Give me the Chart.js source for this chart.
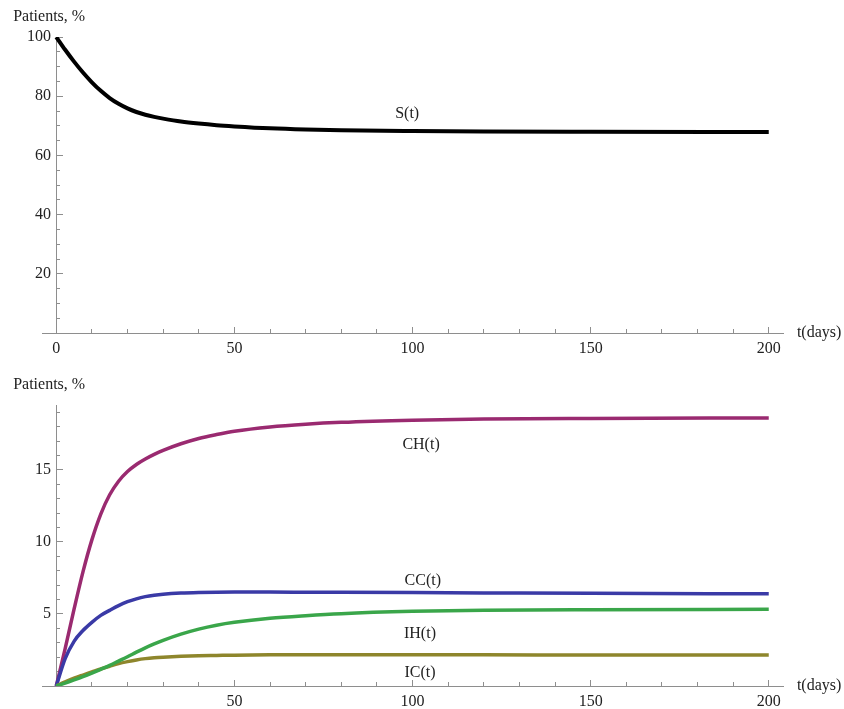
<!DOCTYPE html>
<html>
<head>
<meta charset="utf-8">
<script src="https://cdn.jsdelivr.net/npm/chart.js@4.4.1/dist/chart.umd.min.js"></script>
<style>
html,body{margin:0;padding:0;background:#fff;}
#wrap{position:relative;width:844px;height:709px;overflow:hidden;}
.box{position:absolute;left:0;width:844px;}
</style>
</head>
<body>
<div id="wrap">
  <div class="box" style="top:0;height:360px"><canvas id="c1"></canvas></div>
  <div class="box" style="top:360px;height:349px"><canvas id="c2"></canvas></div>
</div>
<script>
// ---------- data ----------
const days = [0, 2.5, 5, 7.5, 10, 12.5, 15, 17.5, 20, 22.5, 25, 27.5, 30, 35, 40, 45, 50, 60, 70, 80, 100, 120, 150, 200];
const S  = [100, 95.68, 91.68, 88.0, 84.7, 81.8, 79.38, 77.43, 75.88, 74.66, 73.73, 73.0, 72.43, 71.45, 70.75, 70.2, 69.8, 69.15, 68.75, 68.5, 68.25, 68.1, 68.0, 67.9];
const CH = [0, 2.59, 5.33, 7.92, 10.14, 11.93, 13.27, 14.21, 14.88, 15.37, 15.75, 16.07, 16.35, 16.81, 17.18, 17.45, 17.68, 17.98, 18.17, 18.3, 18.45, 18.53, 18.57, 18.6];
const CC = [0, 1.9, 3.1, 3.85, 4.42, 4.9, 5.25, 5.58, 5.85, 6.05, 6.2, 6.3, 6.37, 6.45, 6.49, 6.51, 6.52, 6.52, 6.51, 6.5, 6.48, 6.46, 6.43, 6.4];
const IH = [0, 0.2, 0.42, 0.65, 0.9, 1.16, 1.43, 1.73, 2.03, 2.35, 2.65, 2.92, 3.17, 3.6, 3.95, 4.22, 4.42, 4.7, 4.88, 5.02, 5.18, 5.26, 5.3, 5.32];
const IC = [0, 0.28, 0.54, 0.76, 0.97, 1.18, 1.37, 1.55, 1.69, 1.81, 1.9, 1.96, 2.0, 2.06, 2.1, 2.12, 2.14, 2.16, 2.16, 2.16, 2.16, 2.16, 2.15, 2.15];

const seriesNames = ['S(t)', 'CH(t)', 'CC(t)', 'IH(t)', 'IC(t)'];
const yTitle = 'Patients, %';
const xTitle = 't(days)';

// tick values
const xMajorTop = [0, 50, 100, 150, 200];
const xMajorBottom = [50, 100, 150, 200];
const xMinor = [0, 10, 20, 30, 40, 50, 60, 70, 80, 90, 100, 110, 120, 130, 140, 150, 160, 170, 180, 190, 200];
const yMajorTop = [20, 40, 60, 80, 100];
const yMinorTop = [5, 10, 15, 20, 25, 30, 35, 40, 45, 50, 55, 60, 65, 70, 75, 80, 85, 90, 95, 100];
const yMajorBottom = [5, 10, 15];
const yMinorBottom = [1, 2, 3, 4, 5, 6, 7, 8, 9, 10, 11, 12, 13, 14, 15, 16, 17, 18, 19];

// ---------- styling ----------
const AXIS = '#8e8e8e';
const TXT = '#222222';
const FONT = 'Liberation Serif';

const pts = (arr) => days.map((d, i) => ({x: d, y: arr[i]}));

function tickAxis(axis, pos, values, len, labels, min, max, suffix) {
  return {
    type: 'linear', axis: axis, min: min, max: max, position: pos,
    afterBuildTicks: (s) => { s.ticks = values.map(v => ({value: v})); },
    grid: {drawOnChartArea: false, drawTicks: true, tickLength: -len, tickColor: AXIS, tickWidth: 1},
    border: {display: labels, color: AXIS, width: 1},
    ticks: {
      autoSkip: false, maxRotation: 0, padding: 13, color: TXT,
      font: {family: FONT, size: 16},
      callback: (v) => labels ? String(v) + (suffix || '') : ''
    }
  };
}

function makeScales(xMaj, yMaj, yMin, yMax) {
  return {
    x:  tickAxis('x', {y: 0}, xMaj, 7, true, -4, 204, ''),
    x2: tickAxis('x', {y: 0}, xMinor, 4, false, -4, 204, ''),
    y:  tickAxis('y', {x: 0}, yMaj, 7, true, 0, yMax, '\u2004'),
    y2: tickAxis('y', {x: 0}, yMin, 4, false, 0, yMax, '')
  };
}

const textPlugin = {
  id: 'curveText',
  afterDraw(chart, args, opts) {
    const {ctx} = chart;
    const xs = chart.scales.x, ys = chart.scales.y;
    ctx.save();
    ctx.font = '16px "' + FONT + '"';
    ctx.fillStyle = TXT;
    ctx.textBaseline = 'middle';
    for (const t of opts.items) {
      ctx.textAlign = t.align || 'center';
      ctx.fillText(t.text, xs.getPixelForValue(t.x), ys.getPixelForValue(t.y));
    }
    ctx.restore();
  }
};

function line(label, arr, color, width) {
  return {
    label: label, data: pts(arr), borderColor: color, backgroundColor: color,
    borderWidth: width, pointRadius: 0, fill: false,
    cubicInterpolationMode: 'monotone', borderCapStyle: 'butt'
  };
}

const common = {
  responsive: true, maintainAspectRatio: false, animation: false,
  events: [],
  plugins: {legend: {display: false}, tooltip: {enabled: false}, title: {display: false}}
};

new Chart(document.getElementById('c1'), {
  type: 'line',
  data: {datasets: [line(seriesNames[0], S, '#000000', 4)]},
  options: Object.assign({}, common, {
    layout: {padding: {left: 42, right: 61, top: 37, bottom: 27}},
    scales: makeScales(xMajorTop, yMajorTop, yMinorTop, 100),
    plugins: Object.assign({}, common.plugins, {
      curveText: {items: [
        {text: seriesNames[0], x: 98.5, y: 74.2},
        {text: yTitle, x: -12.1, y: 106.8, align: 'left'},
        {text: xTitle, x: 207.9, y: 0, align: 'left'}
      ]}
    })
  }),
  plugins: [textPlugin]
});

new Chart(document.getElementById('c2'), {
  type: 'line',
  data: {datasets: [
    line(seriesNames[3], IH, '#3aa64a', 3.5),
    line(seriesNames[4], IC, '#8e862c', 3.5),
    line(seriesNames[2], CC, '#3a3aa6', 3.5),
    line(seriesNames[1], CH, '#9a2a70', 3.5)
  ]},
  options: Object.assign({}, common, {
    layout: {padding: {left: 42, right: 61, top: 45, bottom: 23}},
    scales: makeScales(xMajorBottom, yMajorBottom, yMinorBottom, 19.5),
    plugins: Object.assign({}, common.plugins, {
      curveText: {items: [
        {text: seriesNames[1], x: 102.4, y: 16.72},
        {text: seriesNames[2], x: 102.9, y: 7.29},
        {text: seriesNames[3], x: 102.1, y: 3.61},
        {text: seriesNames[4], x: 102.1, y: 0.90},
        {text: yTitle, x: -12.1, y: 20.9, align: 'left'},
        {text: xTitle, x: 207.9, y: 0, align: 'left'}
      ]}
    })
  }),
  plugins: [textPlugin]
});
</script>
</body>
</html>
